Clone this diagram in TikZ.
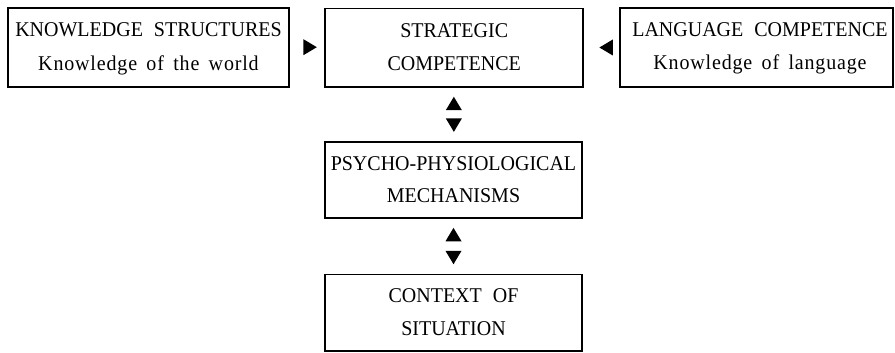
\documentclass[tikz,border=0pt]{standalone}
\usepackage{fontspec}
\setmainfont{Liberation Serif}
\newfontfamily\boxfont[WordSpace=2.2,FakeStretch=0.952]{Liberation Serif}
\newfontfamily\boxlcfont[WordSpace=1.6,LetterSpace=4,FakeStretch=0.952]{Liberation Serif}
\usetikzlibrary{calc}
\begin{document}
\begin{tikzpicture}[x=1pt,y=-1pt,
  box/.style={draw, line width=1.8pt, inner sep=0pt},
  txt/.style={anchor=base, inner sep=0pt, font=\boxfont\fontsize{21}{24}\selectfont},
  lctxt/.style={anchor=base, inner sep=0pt, font=\boxlcfont\fontsize{21}{24}\selectfont},
  triR/.pic={\fill (-6.7,-8) -- (6.7,0) -- (-6.7,8) -- cycle;},
  triL/.pic={\fill (6.7,-8) -- (-6.7,0) -- (6.7,8) -- cycle;},
  triU/.pic={\fill (-8,6.7) -- (0,-6.7) -- (8,6.7) -- cycle;},
  triD/.pic={\fill (-8,-6.7) -- (0,6.7) -- (8,-6.7) -- cycle;}]
\useasboundingbox (0,0) rectangle (895,353);
% boxes
\node[box, minimum width=281pt, minimum height=79pt] (k) at (148.5,47.8) {};
\node[box, minimum width=258pt, minimum height=78.5pt] (s) at (454.2,47.8) {};
\node[box, minimum width=273pt, minimum height=79pt] (l) at (756.5,47.8) {};
\node[box, minimum width=257pt, minimum height=75.5pt] (p) at (453.5,180) {};
\node[box, minimum width=257pt, minimum height=76.5pt] (c) at (453.5,312.8) {};
% texts
\node[txt] (k1) at ($(k.north)+(0,29)$) {KNOWLEDGE STRUCTURES};
\node[lctxt] (k2) at ($(k.north)+(0,63)$) {Knowledge of the world};
\node[txt] (s1) at ($(s.north)+(0,29.5)$) {STRATEGIC};
\node[txt] (s2) at ($(s.north)+(0,63)$) {COMPETENCE};
\node[txt] (l1) at ($(l.north)+(3.5,29)$) {LANGUAGE COMPETENCE};
\node[lctxt] (l2) at ($(l.north)+(3.5,62)$) {Knowledge of language};
\node[txt] (p1) at ($(p.north)+(0,29)$) {PSYCHO-PHYSIOLOGICAL};
\node[txt] (p2) at ($(p.north)+(0,61.5)$) {MECHANISMS};
\node[txt] (c1) at ($(c.north)+(0,29.3)$) {CONTEXT OF};
\node[txt] (c2) at ($(c.north)+(0,61.5)$) {SITUATION};
% connectors (arrowheads only)
\coordinate (ks) at ($(k.east)!0.5!(s.west)+(3,-0.6)$);
\coordinate (ls) at ($(l.west)!0.5!(s.east)+(4.5,-0.3)$);
\coordinate (sp) at ($(s.south)!0.5!(p.north)$);
\coordinate (pc) at ($(p.south)!0.5!(c.north)$);
\pic at (ks) {triR};
\pic at (ls) {triL};
\pic at ($(sp)+(0,-11.2)$) {triU};
\pic at ($(sp)+(0,10.5)$) {triD};
\pic at ($(pc)+(0,-11.6)$) {triU};
\pic at ($(pc)+(0,11.4)$) {triD};
\end{tikzpicture}
\end{document}
